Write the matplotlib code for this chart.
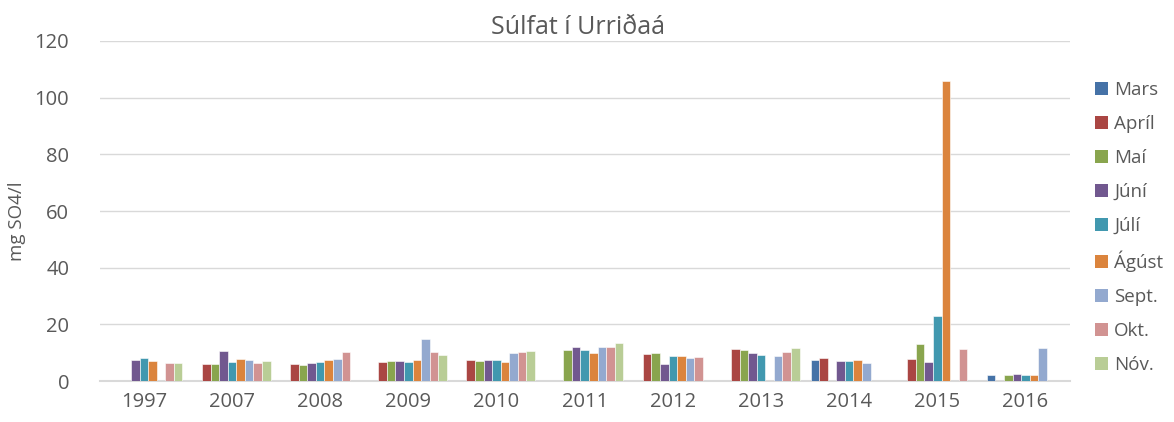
import numpy as np
import matplotlib
matplotlib.use("Agg")
import matplotlib.pyplot as plt
from matplotlib.patches import Patch

nan = np.nan
years = ["1997", "2007", "2008", "2009", "2010", "2011", "2012", "2013", "2014", "2015", "2016"]

mars  = [nan, nan, nan, nan, nan, nan, nan, nan, 7.6, nan, 2.0]
april = [nan, 6.1, 5.9, 6.7, 7.3, nan, 9.4, 11.4, 8.3, 7.8, nan]
mai   = [nan, 6.0, 5.5, 7.0, 7.2, 10.9, 9.8, 11.1, nan, 13.0, 2.3]
juni  = [7.6, 10.5, 6.3, 7.0, 7.3, 12.1, 6.0, 9.8, 7.0, 6.9, 2.4]
juli  = [8.0, 6.6, 6.8, 6.7, 7.4, 10.9, 8.7, 9.3, 7.0, 23.0, 2.3]
agust = [7.0, 7.7, 7.4, 7.3, 6.8, 9.9, 8.7, nan, 7.3, 106.0, 2.3]
sept  = [nan, 7.6, 7.9, 14.8, 9.8, 11.9, 8.0, 9.0, 6.3, nan, 11.6]
okt   = [6.4, 6.3, 10.2, 10.4, 10.2, 11.9, 8.4, 10.4, nan, 11.2, nan]
nov   = [6.4, 7.1, nan, 9.1, 10.5, 13.3, nan, 11.8, nan, nan, nan]

series = [
    ("Mars", mars, "#4572A7"),
    ("Apríl", april, "#AA4643"),
    ("Maí", mai, "#89A54E"),
    ("Júní", juni, "#71588F"),
    ("Júlí", juli, "#4198AF"),
    ("Ágúst", agust, "#DB843D"),
    ("Sept.", sept, "#93A9CF"),
    ("Okt.", okt, "#D19392"),
    ("Nóv.", nov, "#B9CD96"),
]

plt.rcParams['font.family'] = ['Open Sans', 'DejaVu Sans']
text_color = "#595959"

fig = plt.figure(figsize=(11.74, 4.22), dpi=100)
ax = fig.add_axes([0.085, 0.097, 0.826, 0.806])

x = np.arange(len(years))
n = len(series)
group = 0.875
w = group / n
for i, (name, vals, col) in enumerate(series):
    offs = -group / 2 + w * (i + 0.5)
    ax.bar(x + offs, np.array(vals, dtype=float), width=w, color=col,
           edgecolor="white", linewidth=0.4, label=name, zorder=3)

ax.set_xlim(-0.5, len(years) - 0.5)
ax.set_ylim(0, 120)
ax.set_yticks(np.arange(0, 121, 20))
ax.set_xticks(x)
ax.set_xticklabels(years)
ax.grid(axis="y", color="#D9D9D9", linewidth=1.0, zorder=0)
for s in ["top", "right", "left"]:
    ax.spines[s].set_visible(False)
ax.spines["bottom"].set_color("#D9D9D9")
ax.spines["bottom"].set_linewidth(1.5)
ax.tick_params(axis="both", length=0, labelsize=14.5, colors=text_color, pad=8)
ax.tick_params(axis="y", pad=22)
ax.set_ylabel("mg SO4/l", fontsize=13.5, color=text_color)
ax.yaxis.set_label_coords(-0.076, 0.471)

fig.text(0.492, 0.936, "Súlfat í Urriðaá", fontsize=18, color=text_color,
         ha="center", va="center")

handles = [Patch(facecolor=c, edgecolor="none", label=nm) for nm, _, c in series]
leg = fig.legend(handles=handles, loc="center left", bbox_to_anchor=(0.918, 0.461),
                 frameon=False, fontsize=13.5, handlelength=0.7, handleheight=0.7,
                 handletextpad=0.35, labelspacing=0.85)
for t in leg.get_texts():
    t.set_color(text_color)

fig.savefig("out.png", dpi=100)
